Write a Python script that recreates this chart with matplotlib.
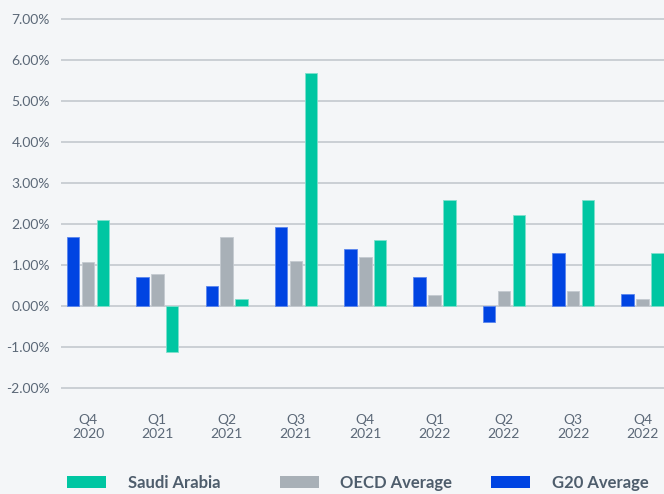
import matplotlib
matplotlib.use("Agg")
import matplotlib.pyplot as plt
import numpy as np
from matplotlib.patches import Patch

categories = ["Q4\n2020", "Q1\n2021", "Q2\n2021", "Q3\n2021", "Q4\n2021",
              "Q1\n2022", "Q2\n2022", "Q3\n2022", "Q4\n2022"]
g20 = [1.68, 0.70, 0.48, 1.92, 1.38, 0.70, -0.38, 1.30, 0.30]
oecd = [1.08, 0.78, 1.68, 1.10, 1.20, 0.27, 0.38, 0.38, 0.18]
saudi = [2.10, -1.12, 0.17, 5.68, 1.60, 2.58, 2.22, 2.58, 1.30]
yticks = [-2, -1, 0, 1, 2, 3, 4, 5, 6, 7]
legend_labels = ["Saudi Arabia", "OECD Average", "G20 Average"]

plt.rcParams['font.family'] = ['Lato', 'DejaVu Sans']

bg = "#f4f6f8"
c_sa = "#00c6a2"
c_oecd = "#a8b0b7"
c_g20 = "#0044e2"
txt = "#5b6877"

fig = plt.figure(figsize=(6.64, 4.94), dpi=100, facecolor=bg)
ax = fig.add_axes([61/664, 94/494, 1 - 61/664, 390/494])
ax.set_facecolor(bg)

x = np.arange(len(categories))
w = 0.18
off = 0.215
ax.bar(x - off, g20, w, color=c_g20, edgecolor="#5b86ee", linewidth=0.6, zorder=3)
ax.bar(x, oecd, w, color=c_oecd, edgecolor="#c4cad0", linewidth=0.6, zorder=3)
ax.bar(x + off, saudi, w, color=c_sa, edgecolor="#7fe0cc", linewidth=0.6, zorder=3)

ax.set_xlim(-0.39, 8.31)
ax.set_ylim(-2.29, 7.22)
ax.set_yticks(yticks)
ax.set_yticklabels([f"{v:.2f}%" for v in yticks])
ax.set_xticks(x)
ax.set_xticklabels(categories, linespacing=1.25)
ax.tick_params(axis='both', length=0, labelsize=10, labelcolor=txt)
ax.tick_params(axis='y', pad=8)
ax.tick_params(axis='x', pad=10)
ax.grid(axis='y', color="#c3c9cf", linewidth=1.2, zorder=0)
for s in ax.spines.values():
    s.set_visible(False)

legend_colors = [c_sa, c_oecd, c_g20]
legend_x = [67, 280, 491]
for lab, col, lx in zip(legend_labels, legend_colors, legend_x):
    leg = fig.legend([Patch(facecolor=col)], [lab], loc='center left',
                     bbox_to_anchor=(lx/664, 11/494),
                     frameon=False, handlelength=2.33, handleheight=0.72,
                     handletextpad=1.3, borderpad=0, borderaxespad=0,
                     prop={'family': 'Lato', 'weight': 'bold', 'size': 12.0})
    for t in leg.get_texts():
        t.set_color("#4e5d6c")

fig.savefig("out.png", dpi=100, facecolor=bg)
